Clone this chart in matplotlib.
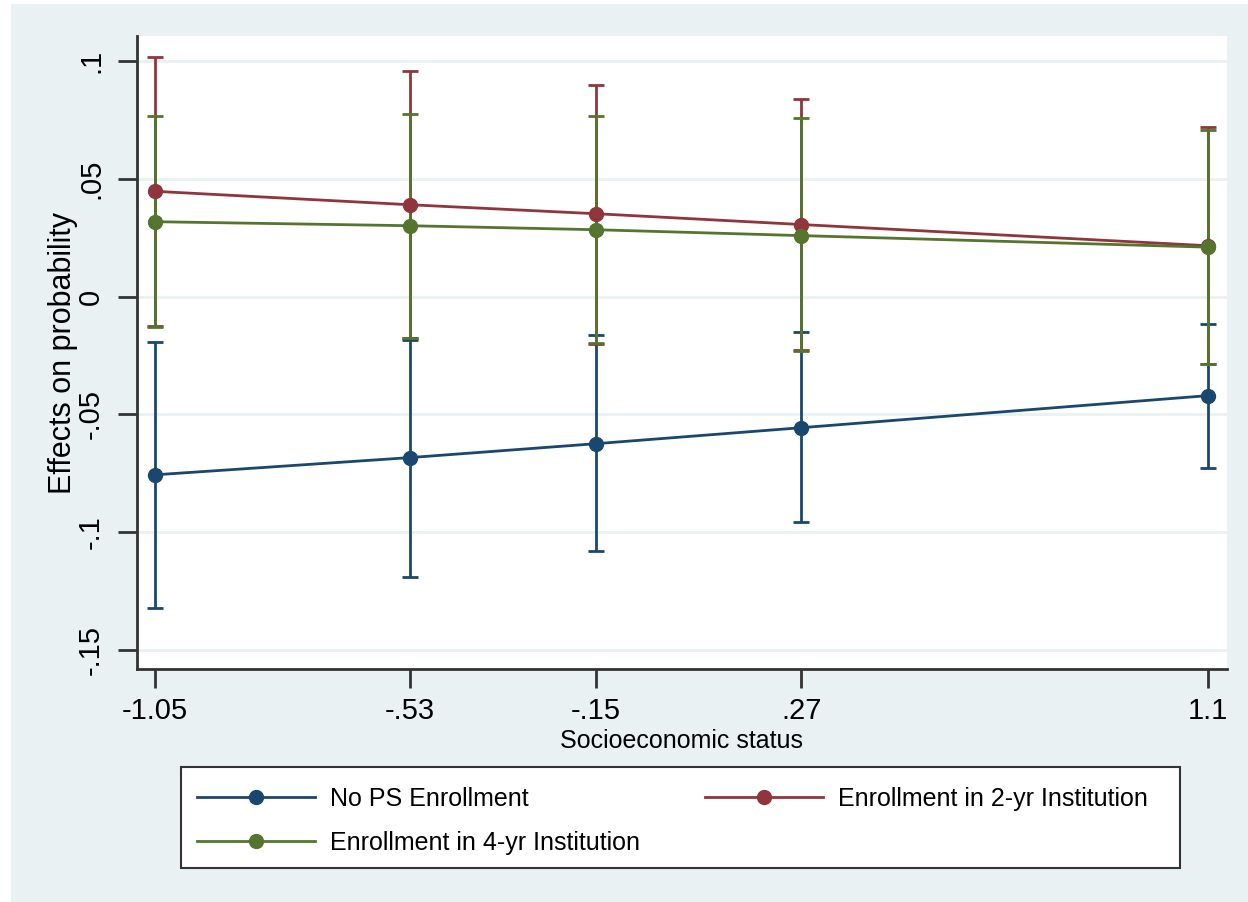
import matplotlib
matplotlib.use("Agg")
import matplotlib.pyplot as plt
from matplotlib.patches import Rectangle
from matplotlib.lines import Line2D

plt.rcParams['font.family'] = ['Liberation Sans', 'DejaVu Sans']

ses = [-1.05, -0.53, -0.15, 0.27, 1.1]
tick_labels_x = ["-1.05", "-.53", "-.15", ".27", "1.1"]
yticks = [-0.15, -0.1, -0.05, 0, 0.05, 0.1]
tick_labels_y = ["-.15", "-.1", "-.05", "0", ".05", ".1"]

series_names = ["No PS Enrollment", "Enrollment in 2-yr Institution", "Enrollment in 4-yr Institution"]
no_ps = [-0.0756, -0.0683, -0.0624, -0.0556, -0.0420]
no_ps_lo = [-0.1320, -0.1188, -0.1078, -0.0955, -0.0726]
no_ps_hi = [-0.0191, -0.0183, -0.0161, -0.0149, -0.0115]

two_yr = [0.0447, 0.0390, 0.0352, 0.0306, 0.0216]
two_yr_lo = [-0.0125, -0.0176, -0.0200, -0.0226, -0.0287]
two_yr_hi = [0.1019, 0.0956, 0.0900, 0.0840, 0.0720]

four_yr = [0.0318, 0.0301, 0.0284, 0.0259, 0.0210]
four_yr_lo = [-0.0130, -0.0174, -0.0195, -0.0229, -0.0284]
four_yr_hi = [0.0768, 0.0777, 0.0768, 0.0756, 0.0709]

colors = ["#1a476f", "#90353b", "#55752f"]
bg = "#e9f1f3"

W, H = 1248, 902
fig = plt.figure(figsize=(W / 100, H / 100), dpi=100, facecolor="white")
fig.patches.append(Rectangle((11 / W, 0), 1 - 11 / W, 1 - 4 / H, transform=fig.transFigure,
                             facecolor=bg, edgecolor="none", zorder=-10))

ax = fig.add_axes([137 / W, 1 - 669 / H, (1227 - 137) / W, (669 - 36) / H])
ax.set_facecolor("white")

data = [(no_ps, no_ps_lo, no_ps_hi), (two_yr, two_yr_lo, two_yr_hi), (four_yr, four_yr_lo, four_yr_hi)]
for i, ((y, lo, hi), c) in enumerate(zip(data, colors)):
    yerr = [[yy - l for yy, l in zip(y, lo)], [h - yy for yy, h in zip(y, hi)]]
    ax.errorbar(ses, y, yerr=yerr, fmt="none", ecolor=c, elinewidth=2, capsize=6, capthick=2,
                zorder=3 + i)
for i, ((y, lo, hi), c) in enumerate(zip(data, colors)):
    ax.plot(ses, y, color=c, lw=2, marker="o", markersize=10, zorder=10 + i)

ax.set_xlim(-1.0868, 1.139)
ax.set_ylim(-0.158, 0.1106)
ax.set_xticks(ses)
ax.set_xticklabels(tick_labels_x, fontsize=21)
ax.set_yticks(yticks)
ax.set_yticklabels(tick_labels_y, fontsize=21, rotation=90, va="center")
ax.grid(axis="y", color=bg, lw=2)
ax.set_axisbelow(True)
for s in ["top", "right"]:
    ax.spines[s].set_visible(False)
for s in ["left", "bottom"]:
    ax.spines[s].set_color("#333333")
    ax.spines[s].set_linewidth(2)
ax.tick_params(axis="both", direction="out", length=14, width=2, color="#333333", pad=6)
ax.tick_params(axis="y", pad=9)

ax.set_xlabel("Socioeconomic status", fontsize=18, labelpad=3)
ax.set_ylabel("Effects on probability", fontsize=22)
ax.yaxis.set_label_coords(-0.054, 0.5)

# legend frame
fig.patches.append(Rectangle((181 / W, 1 - 868 / H), (1180 - 181) / W, (868 - 767) / H,
                             transform=fig.transFigure, facecolor="white",
                             edgecolor="#333333", lw=1.5, zorder=1))

handles = [Line2D([0], [0], color=c, lw=2, marker="o", markersize=10) for c in colors]
order = [0, 2, 1]
leg = fig.legend([handles[i] for i in order], [series_names[i] for i in order],
                 loc="upper left", ncol=2,
                 bbox_to_anchor=(197 / W, 1 - 787 / H),
                 fontsize=18, handlelength=4.72, handletextpad=0.6, columnspacing=2.6,
                 frameon=False, borderpad=0, labelspacing=0.8, borderaxespad=0)

fig.savefig("out.png", dpi=100, facecolor=fig.get_facecolor())
